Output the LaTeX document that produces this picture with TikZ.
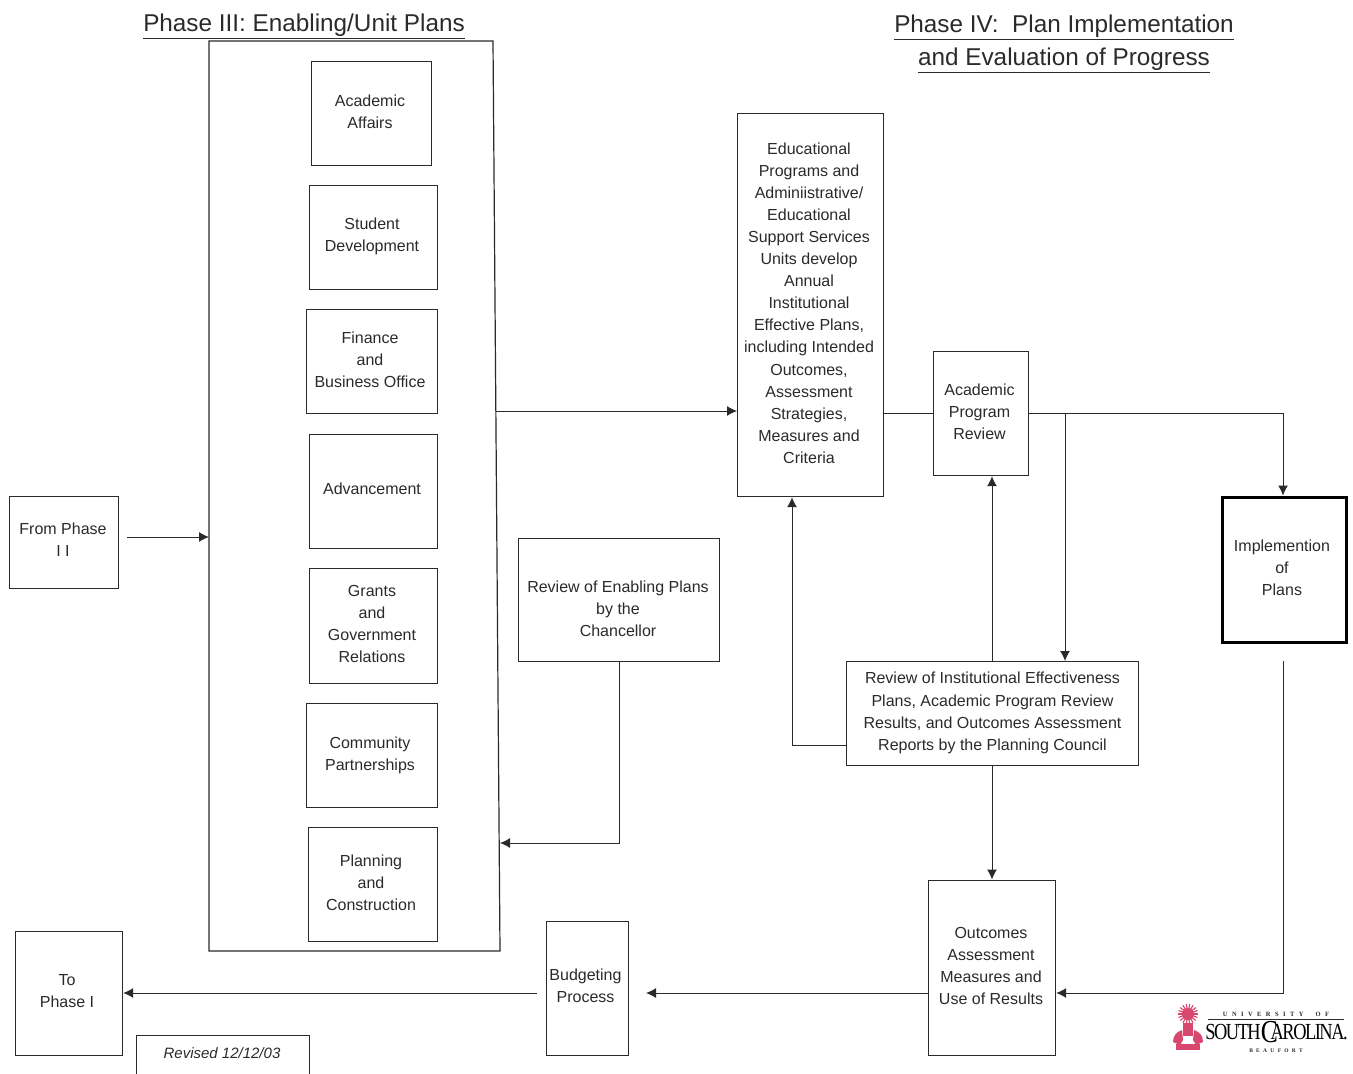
\documentclass[tikz,border=0pt]{standalone}
\usepackage{fontspec}
\setmainfont{Liberation Sans}
\newfontfamily\logofont{Liberation Serif}
\usetikzlibrary{arrows.meta}
\definecolor{ink}{HTML}{2A2A2A}
\definecolor{garnet}{HTML}{D8486E}
\tikzset{
  x=1pt,y=-1pt,
  every node/.style={font=\fontsize{16}{22.1}\selectfont,text=ink,align=center,inner sep=0pt},
  boxn/.style={draw=ink,line width=1.2pt},
  line/.style={draw=ink,line width=1pt},
  arr/.style={line,-{Latex[length=10pt,width=10pt]}},
  head/.style={font=\fontsize{24.3}{30}\selectfont}
}
% name, x0,y0,x1,y1, then text centre and text
\newcommand{\bx}[8]{\node[boxn,minimum width=#4-#2,minimum height=#5-#3,anchor=north west] (#1) at (#2,#3) {};
\node (#1-t) at (#6,#7) {#8};}
\begin{document}
\begin{tikzpicture}
\useasboundingbox (0,0) rectangle (1353,1074);
\node[head] (h3) at (304,26) {\underline{Phase III: Enabling/Unit Plans}};
\node[head] (h4a) at (1064,27) {\underline{Phase IV:\ \ Plan Implementation}};
\node[head] (h4b) at (1064,60) {\underline{and Evaluation of Progress}};
\draw[boxn] (209,41) -- (493,41) -- (500,951) -- (209,951) -- cycle;
\coordinate (oe) at (496,411);
\coordinate (of) at (500,843);
\coordinate (og) at (209,537);
\bx{a1}{310.5}{61}{431}{165}{370}{112}{Academic\\Affairs}
\bx{a2}{308.5}{185}{437}{289}{372}{236}{Student\\Development}
\bx{a3}{305.5}{309}{437}{413}{370}{360}{Finance\\and\\Business Office}
\bx{a4}{308.5}{434}{437}{548}{372}{489}{Advancement}
\bx{a5}{308.5}{568}{437}{683}{372}{624}{Grants\\and\\Government\\Relations}
\bx{a6}{305.5}{703}{437}{807}{370}{755}{Community\\Partnerships}
\bx{a7}{307.5}{827}{437}{941}{371}{883}{Planning\\and\\Construction}
\bx{ph2}{8.5}{496}{118}{588}{63}{540}{From Phase\\I I}
\bx{ph1}{14.5}{931}{122}{1055}{67}{991}{To\\Phase I}
\bx{rev}{518}{537.5}{719}{661}{618}{609}{Review of Enabling Plans\\by the\\Chancellor}
\bx{bud}{545.5}{921}{628}{1055}{585.5}{986}{Budgeting\\Process}
\bx{edu}{737}{112.5}{883}{496}{809}{303}{Educational\\Programs and\\Adminiistrative/\\Educational\\Support Services\\Units develop\\Annual\\Institutional\\Effective Plans,\\including Intended\\Outcomes,\\Assessment\\Strategies,\\Measures and\\Criteria}
\bx{apr}{932.5}{350.5}{1028}{475}{979.5}{411.5}{Academic\\Program\\Review}
\bx{pc}{846}{661}{1138}{765}{992.5}{713}{Review of Institutional Effectiveness\\Plans, Academic Program Review\\Results, and Outcomes Assessment\\Reports by the Planning Council}
\bx{oam}{928}{879.5}{1055}{1055}{991}{966}{Outcomes\\Assessment\\Measures and\\Use of Results}
\node[draw=black,line width=3pt,minimum width=124,minimum height=145,anchor=north west] (imp) at (1220.5,495.5) {};
\node (imp-t) at (1282,567.5) {Implemention\\of\\Plans};
\node[draw=ink,line width=1.2pt,minimum width=173,minimum height=50,anchor=north west] (rvd) at (136,1035) {};
\node[font=\fontsize{15}{18}\selectfont\itshape] (rvt) at (222,1053) {Revised 12/12/03};
% connectors
\coordinate (y413) at (0,413);
\coordinate (y411) at (0,411);
\coordinate (y993) at (0,993);
\coordinate (y745) at (0,745);
\coordinate (x792) at (792,0);
\coordinate (x992) at (992,0);
\coordinate (x1065) at (1065,0);
\coordinate (x1283) at (1283,0);
\coordinate (p2) at (127,537);
\coordinate (bud-in) at (646,993);
\coordinate (bud-out) at (537,993);
\coordinate (impe) at (1283,661);
\draw[arr] (p2) -- (og);
\draw[arr] (oe) -- (edu.west |- y411);
\draw[arr] (rev.south) |- (of);
\draw[line] (edu.east |- y413) -- (apr.west |- y413);
\draw[arr] (apr.east |- y413) -| (imp.north -| x1283);
\draw[arr] (x1065 |- y413) -- (pc.north -| x1065);
\draw[arr] (pc.north -| x992) -- (apr.south -| x992);
\draw[arr] (pc.west |- y745) -| (edu.south -| x792);
\draw[arr] (pc.south -| x992) -- (oam.north -| x992);
\draw[arr] (impe) |- (oam.east |- y993);
\draw[arr] (oam.west |- y993) -- (bud-in);
\draw[arr] (bud-out) -- (ph1.east |- y993);
% logo
\node[font=\logofont\fontsize{6.5}{7}\selectfont\bfseries] (l1) at (1276,1014.5) {\addfontfeature{LetterSpace=68}UNIVERSITY\ \ OF};
\path[draw=ink,line width=.6pt] (1208,1019.5) -- (1344,1019.5);
\node[font=\logofont\fontsize{23}{23}\selectfont,text=black] (l2) at (1276.5,1032) {\scalebox{0.8}[1]{\addfontfeature{LetterSpace=-8}SOUTH\smash{\raisebox{-3pt}{\fontsize{32}{32}\selectfont C}}\kern-9pt AROLINA.}};
\node[font=\logofont\fontsize{5.5}{6}\selectfont\bfseries] (l3) at (1276,1051) {\addfontfeature{LetterSpace=60}BEAUFORT};
% crest
\foreach \a in {0,20,...,340}{\draw[garnet,line width=1.2pt] (1188,1014) -- ++(\a:10);}
\fill[garnet] (1188,1014) circle (6);
\fill[garnet] (1183,1023) rectangle (1193,1036);
\fill[garnet] (1182,1030) .. controls (1176,1032) and (1173,1036) .. (1173,1042) -- (1180,1045) -- (1183,1040) -- cycle;
\fill[garnet] (1194,1030) .. controls (1200,1032) and (1203,1036) .. (1203,1042) -- (1196,1045) -- (1193,1040) -- cycle;
\fill[garnet] (1176,1044) rectangle (1200,1050);
\end{tikzpicture}
\end{document}
